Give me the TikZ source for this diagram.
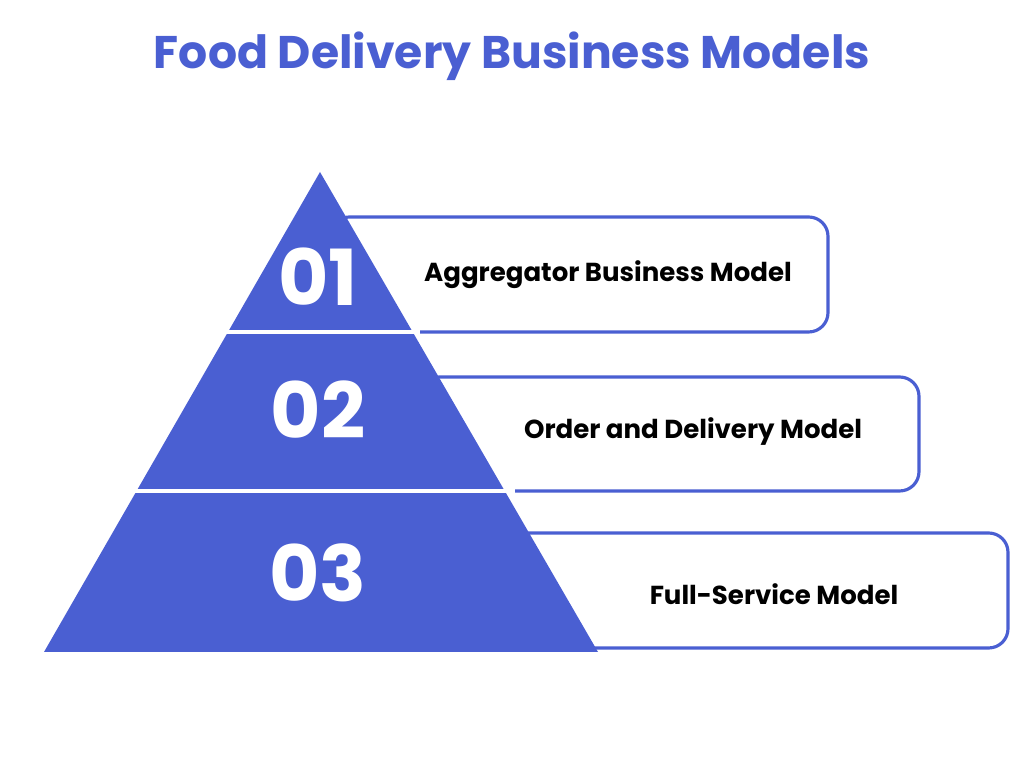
\documentclass[tikz,border=0pt]{standalone}
\usepackage{fontspec}
\setmainfont{Poppins}
\definecolor{pyrblue}{HTML}{4A5FD2}
\tikzset{
  modelbox/.style={draw=pyrblue, line width=0.9pt, fill=white, rounded corners=5.5pt},
  modellabel/.style={font=\fontsize{7.4}{9}\selectfont\bfseries, text=black},
  levelnum/.style={font=\fontsize{22}{26}\selectfont\bfseries, text=white},
  gapline/.style={white, line width=1pt}
}
\begin{document}
\begin{tikzpicture}[x=0.01cm, y=-0.01cm]
  \useasboundingbox[fill=white] (0,0) rectangle (1024,780);
  \node[font=\fontsize{13}{16}\selectfont\bfseries, text=pyrblue] (title) at (512,56) {Food Delivery Business Models};

  % boxes behind the pyramid
  \draw[modelbox] (330,217) rectangle (828,332);
  \draw[modelbox] (420,377) rectangle (919,491);
  \draw[modelbox] (500,533) rectangle (1008,648);

  % pyramid
  \fill[pyrblue] (320,172) -- (598,652) -- (44,652) -- cycle;
  \draw[gapline] (100,332) -- (420,332);
  \draw[gapline] (100,491) -- (515,491);

  \node[levelnum] (n1) at (318,277) {01};
  \node[levelnum] (n2) at (318,410) {02};
  \node[levelnum] (n3) at (318,573) {03};

  \node[modellabel] (m1) at (608,275) {Aggregator Business Model};
  \node[modellabel] (m2) at (693,432) {Order and Delivery Model};
  \node[modellabel] (m3) at (774,594) {Full-Service Model};
\end{tikzpicture}
\end{document}
